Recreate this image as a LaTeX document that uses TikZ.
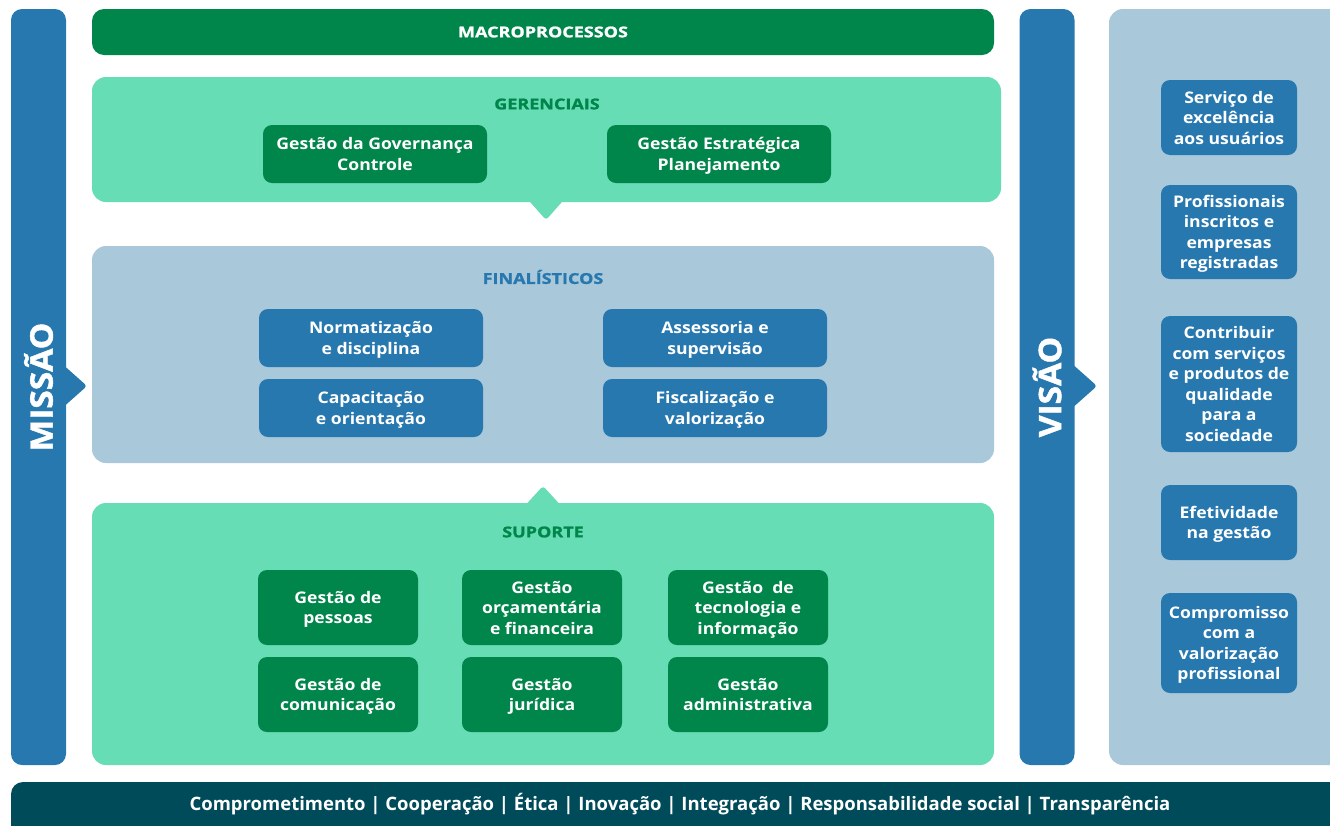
\documentclass[tikz,border=0pt]{standalone}
\usepackage{fontspec}
\setmainfont{Open Sans}
\newfontfamily\fonteCaixa{Open Sans}[FakeStretch=1.1]
\newfontfamily\fonteTitulo{Open Sans}[FakeStretch=1.2, BoldFeatures={FakeBold=1.2}]
\newfontfamily\fonteBarra{Open Sans}[FakeStretch=1.08, BoldFeatures={FakeBold=1.5}]
\definecolor{verdeEsc}{HTML}{00854A}
\definecolor{verdeClaro}{HTML}{66DDB4}
\definecolor{azul}{HTML}{2878B0}
\definecolor{azulClaro}{HTML}{A9C8DA}
\definecolor{petroleo}{HTML}{004B5A}
\tikzset{
  caixa/.style={rounded corners=9pt, minimum width=224pt, minimum height=58pt,
    inner sep=0pt, align=center, text=white, text depth=0pt,
    font=\fonteCaixa\bfseries\fontsize{16}{20.5}\selectfont},
  caixaSup/.style={caixa, fill=verdeEsc, minimum width=160pt, minimum height=75pt},
  caixaVis/.style={caixa, fill=azul, minimum width=136pt},
  painel/.style={rounded corners=14pt, inner sep=0pt},
  titulo/.style={font=\fonteTitulo\bfseries\fontsize{15}{18}\selectfont},
  barra/.style={rounded corners=11pt, fill=azul, text=white, inner sep=0pt,
    rotate=90, minimum width=756pt, minimum height=55pt,
    font=\fonteBarra\bfseries\fontsize{31}{36}\selectfont},
  ponta/.style={rounded corners=3pt}
}
\begin{document}
\begin{tikzpicture}[x=1pt,y=-1pt]
  \useasboundingbox (0,0) rectangle (1330,825);
  \fill[white] (0,0) rectangle (1330,825);

  % Missao e visao
  \fill[azul, ponta] (60,362) -- (87,386) -- (60,410) -- cycle;
  \node[barra] (missao) at (38.5,387) {MISSÃO};
  \fill[azul, ponta] (1070,362) -- (1097,386) -- (1070,410) -- cycle;
  \node[barra] (visao) at (1047,387) {VISÃO};

  % Macroprocessos
  \node[painel, rounded corners=12pt, fill=verdeEsc, minimum width=902pt,
    minimum height=46pt, text=white, titulo] (macro) at (543,32) {MACROPROCESSOS};

  % Gerenciais
  \fill[verdeClaro, ponta] (524,195) -- (546,220) -- (568,195) -- cycle;
  \node[painel, fill=verdeClaro, minimum width=909pt, minimum height=125pt]
    (gerenciais) at (546.5,139.5) {};
  \node[titulo, text=verdeEsc] (titGer) at (547,104) {GERENCIAIS};
  \node[caixa, fill=verdeEsc] (governanca) at (375,154) {Gestão da Governança\\Controle};
  \node[caixa, fill=verdeEsc] (estrategica) at (719,154) {Gestão Estratégica\\Planejamento};

  % Finalisticos
  \node[painel, fill=azulClaro, minimum width=902pt, minimum height=217pt]
    (finalisticos) at (543,354.5) {};
  \node[titulo, text=azul] (titFin) at (543,277) {FINALÍSTICOS};
  \node[caixa, fill=azul] (normatizacao) at (371,338) {Normatização\\e disciplina};
  \node[caixa, fill=azul] (capacitacao) at (371,408) {Capacitação\\e orientação};
  \node[caixa, fill=azul] (assessoria) at (715,338) {Assessoria e\\supervisão};
  \node[caixa, fill=azul] (fiscalizacao) at (715,408) {Fiscalização e\\valorização};

  % Suporte
  \fill[verdeClaro, ponta] (521,510) -- (543,486) -- (565,510) -- cycle;
  \node[painel, fill=verdeClaro, minimum width=902pt, minimum height=262pt]
    (suporte) at (543,634) {};
  \node[titulo, text=verdeEsc] (titSup) at (543,532) {SUPORTE};
  \node[caixaSup] (pessoas) at (338,607.5) {Gestão de\\pessoas};
  \node[caixaSup] (orcamento) at (542,607.5) {Gestão\\orçamentária\\e financeira};
  \node[caixaSup] (tecnologia) at (748,607.5) {Gestão~ de\\tecnologia e\\informação};
  \node[caixaSup] (comunicacao) at (338,694.5) {Gestão de\\comunicação};
  \node[caixaSup] (juridica) at (542,694.5) {Gestão\\jurídica};
  \node[caixaSup] (administrativa) at (748,694.5) {Gestão\\administrativa};

  % Painel da visao
  \fill[azulClaro, rounded corners=14pt] (1109,9) rectangle (1350,765);
  \node[caixaVis, minimum height=75pt] (servico) at (1229,117.5)
    {Serviço de\\excelência\\aos usuários};
  \node[caixaVis, minimum height=94pt] (profissionais) at (1229,232)
    {Profissionais\\inscritos e\\empresas\\registradas};
  \node[caixaVis, minimum height=136pt] (contribuir) at (1229,384)
    {Contribuir\\com serviços\\e produtos de\\qualidade\\para a\\sociedade};
  \node[caixaVis, minimum height=75pt] (efetividade) at (1229,522.5)
    {Efetividade\\na gestão};
  \node[caixaVis, minimum height=100pt] (compromisso) at (1229,643)
    {Compromisso\\com a\\valorização\\profissional};

  % Valores
  \fill[petroleo, rounded corners=12pt] (11,782) rectangle (1350,850);
  \node[text=white, font=\bfseries\fontsize{18.5}{22}\selectfont] (valores) at (680,804)
    {Comprometimento | Cooperação | Ética | Inovação | Integração | Responsabilidade social | Transparência};
\end{tikzpicture}
\end{document}
